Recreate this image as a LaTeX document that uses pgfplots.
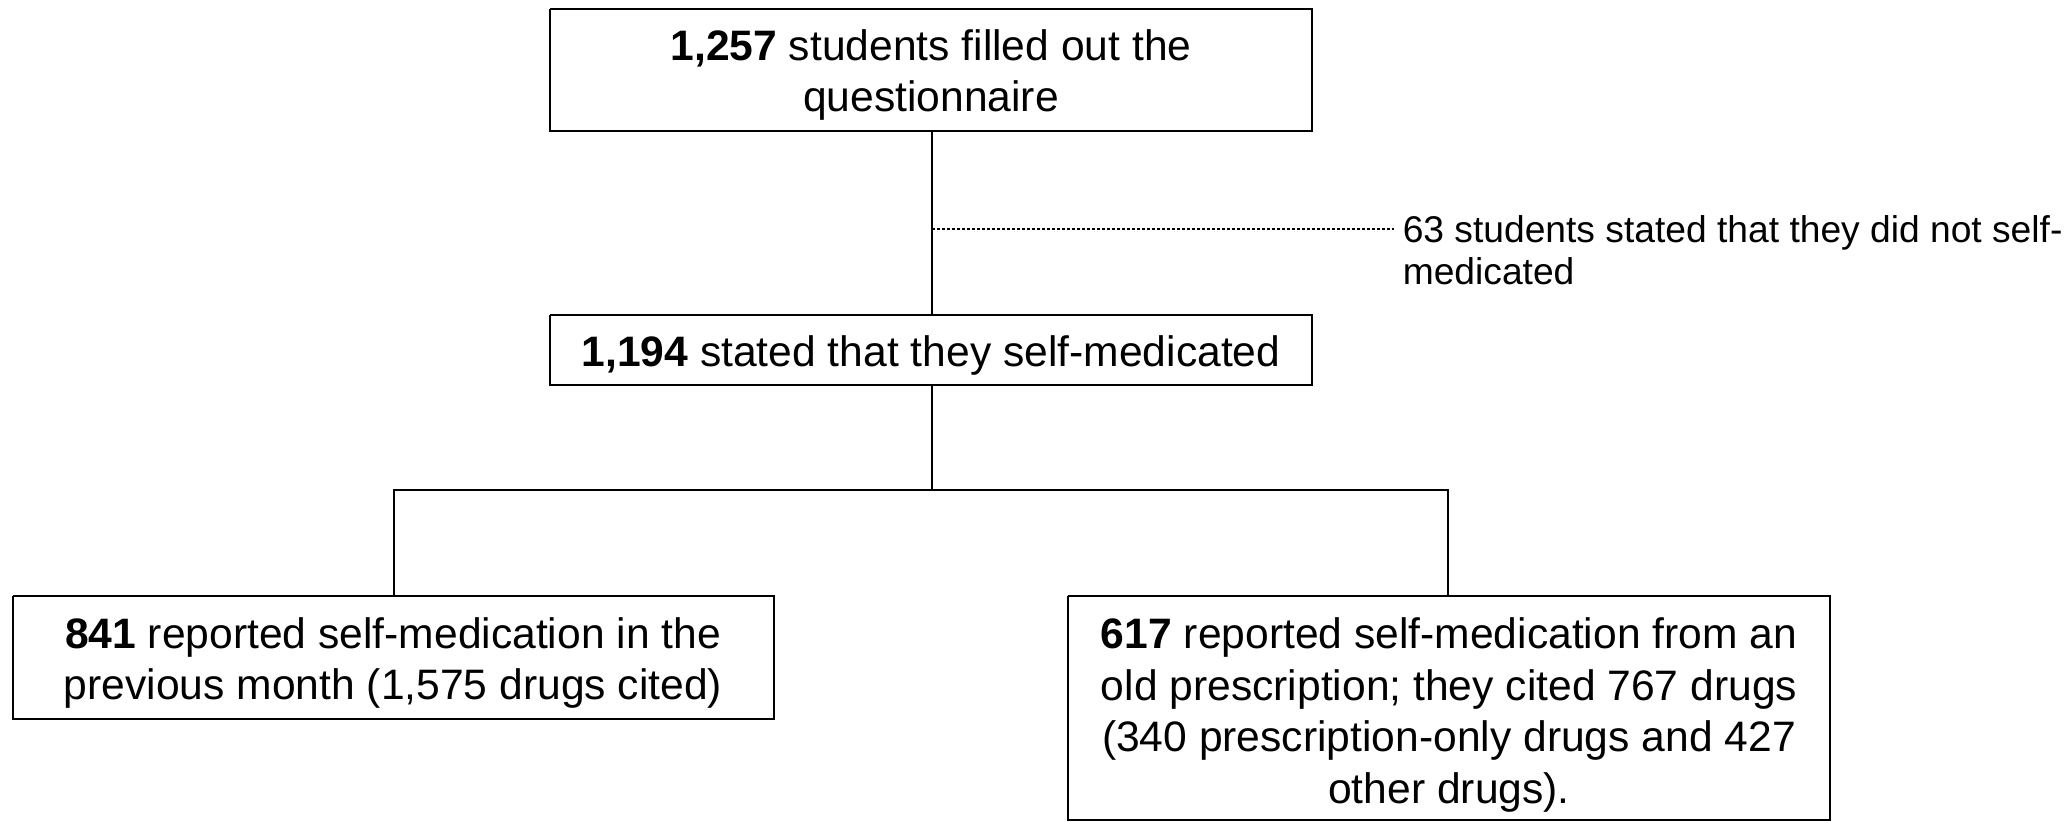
\documentclass[border=0pt]{standalone}
\usepackage{pgfplots}
\pgfplotsset{compat=1.18}
\usepackage{fontspec}
\setmainfont{Liberation Sans}
\tikzset{boxtext/.style={align=center, inner sep=0pt, font=\fontsize{10.65bp}{12.9bp}\selectfont}}
\begin{document}
\begin{tikzpicture}
\begin{axis}[
  at={(0,0)}, anchor=south west,
  scale only axis, width=518bp, height=205.5bp,
  xmin=0, xmax=2072, ymin=0, ymax=822, y dir=reverse,
  hide axis, clip=false,
]
% invisible frame to fix the bounding box
\addplot[draw=none] coordinates {(0,0) (2072,822)};
% boxes
\addplot[black, line width=0.45bp] coordinates {(550,9) (1312,9) (1312,131) (550,131) (550,9)};
\addplot[black, line width=0.45bp] coordinates {(550,315) (1312,315) (1312,385) (550,385) (550,315)};
\addplot[black, line width=0.45bp] coordinates {(13,596) (774,596) (774,719) (13,719) (13,596)};
\addplot[black, line width=0.45bp] coordinates {(1068,596) (1830,596) (1830,820) (1068,820) (1068,596)};
% connectors
\addplot[black, line width=0.35bp] coordinates {(932,131) (932,315)};
\addplot[black, line width=0.35bp] coordinates {(932,385) (932,490)};
\addplot[black, line width=0.35bp] coordinates {(394,596) (394,490) (1448,490) (1448,596)};
\addplot[black, line width=0.3bp, dash pattern=on 0.75bp off 0.5bp] coordinates {(932,229) (1394,229)};
% texts
\node[boxtext] at (axis cs:931,75) {\textbf{1,257} students filled out the\\questionnaire};
\node[boxtext] at (axis cs:931,355) {\textbf{1,194} stated that they self-medicated};
\node[boxtext] at (axis cs:393,663) {\textbf{841} reported self-medication in the\\previous month (1,575 drugs cited)};
\node[boxtext] at (axis cs:1449,715) {\textbf{617} reported self-medication from an\\old prescription; they cited 767 drugs\\(340 prescription-only drugs and 427\\other drugs).};
\node[align=left, anchor=west, inner sep=0pt, font=\fontsize{9.3bp}{10.6bp}\selectfont] at (axis cs:1402,250) {63 students stated that they did not self-\\medicated};
\end{axis}
\pgfresetboundingbox
\path (0,0) rectangle (518bp,205.5bp);
\end{tikzpicture}
\end{document}
